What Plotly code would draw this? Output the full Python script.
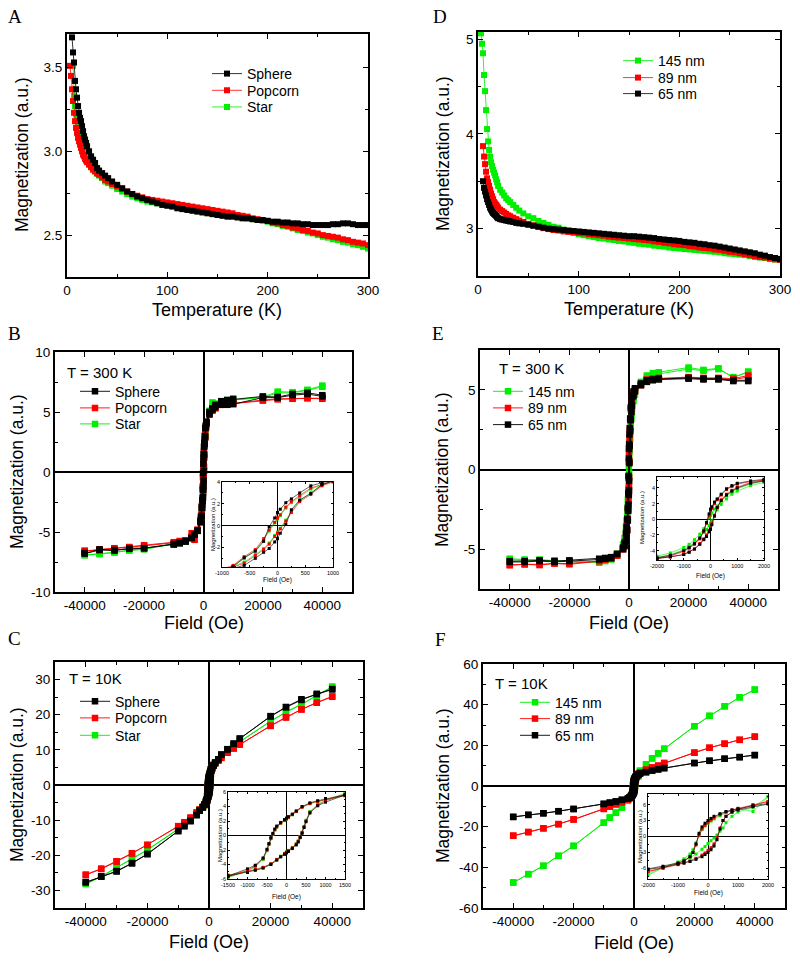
import plotly.graph_objects as go

W, H = 800, 962
SANS = "Liberation Sans, Arial, sans-serif"
SERIF = "Liberation Serif, Times New Roman, serif"
BLACK, RED, GREEN = "#000000", "#ff0000", "#00ee00"

# ---------------- Panel A / D : M vs T ----------------
T_GRID = [3, 4, 5, 6, 7, 8, 9, 10, 11, 12, 13, 14, 15, 16, 17, 18, 19, 20,
          22, 24, 26, 28, 30, 32, 35, 38, 41, 45,
          50, 55, 60, 65, 70, 75, 80, 85, 90, 95,
          100, 105, 110, 115, 120, 125, 130, 135, 140, 145,
          150, 155, 160, 165, 170, 175, 180, 185, 190, 195,
          200, 205, 210, 215, 220, 225, 230, 235, 240, 245,
          250, 255, 260, 265, 270, 275, 280, 285, 290, 295, 300]

A_SPHERE = [None, None, 3.68, 3.59, 3.53, 3.42, 3.37, 3.32, 3.27, 3.23, 3.20, 3.18, 3.15, 3.12, 3.09, 3.07, 3.05, 3.03,
            3.00, 2.97, 2.95, 2.93, 2.90, 2.885, 2.87, 2.855, 2.84, 2.82,
            2.80, 2.78, 2.76, 2.745, 2.73, 2.72, 2.71, 2.70, 2.69, 2.68,
            2.675, 2.67, 2.66, 2.655, 2.65, 2.645, 2.64, 2.635, 2.63, 2.625,
            2.62, 2.615, 2.61, 2.61, 2.605, 2.60, 2.60, 2.595, 2.59, 2.59,
            2.585, 2.58, 2.58, 2.575, 2.575, 2.57, 2.57, 2.565, 2.565, 2.56,
            2.56, 2.56, 2.56, 2.565, 2.565, 2.57, 2.57, 2.565, 2.56, 2.56, 2.56]
A_POPCORN = [3.51, 3.45, 3.37, 3.30, 3.23, 3.18, 3.14, 3.11, 3.08, 3.06, 3.04, 3.02, 3.00, 2.98, 2.97, 2.955, 2.945, 2.935,
             2.92, 2.905, 2.89, 2.88, 2.87, 2.86, 2.845, 2.83, 2.82, 2.805,
             2.79, 2.775, 2.76, 2.745, 2.735, 2.725, 2.715, 2.71, 2.705, 2.70,
             2.695, 2.69, 2.685, 2.68, 2.675, 2.67, 2.665, 2.66, 2.655, 2.65,
             2.645, 2.64, 2.635, 2.63, 2.62, 2.615, 2.61, 2.60, 2.595, 2.59,
             2.585, 2.575, 2.57, 2.56, 2.555, 2.545, 2.54, 2.53, 2.525, 2.515,
             2.51, 2.50, 2.495, 2.49, 2.485, 2.475, 2.47, 2.46, 2.455, 2.45, 2.44]
A_STAR = [None, None, None, 3.51, 3.33, 3.27, 3.22, 3.19, 3.15, 3.11, 3.08, 3.05, 3.03, 3.01, 2.99, 2.975, 2.96, 2.95,
          2.93, 2.91, 2.895, 2.88, 2.865, 2.855, 2.84, 2.82, 2.81, 2.795,
          2.775, 2.76, 2.745, 2.73, 2.72, 2.71, 2.70, 2.695, 2.69, 2.685,
          2.68, 2.675, 2.67, 2.665, 2.66, 2.655, 2.65, 2.645, 2.64, 2.635,
          2.63, 2.625, 2.62, 2.615, 2.61, 2.605, 2.60, 2.595, 2.59, 2.585,
          2.58, 2.57, 2.565, 2.555, 2.55, 2.54, 2.53, 2.525, 2.515, 2.51,
          2.50, 2.49, 2.485, 2.475, 2.47, 2.46, 2.455, 2.445, 2.44, 2.43, 2.42]

D_145 = [5.06, 4.95, 4.85, 4.62, 4.45, 4.25, 4.05, 3.92, 3.83, 3.76, 3.70, 3.66, 3.62, 3.59, 3.56, 3.52, 3.49, 3.45,
         3.41, 3.38, 3.35, 3.32, 3.30, 3.28, 3.25, 3.22, 3.19, 3.16,
         3.13, 3.11, 3.08, 3.06, 3.04, 3.02, 3.01, 2.99, 2.97, 2.955,
         2.94, 2.93, 2.92, 2.91, 2.90, 2.895, 2.885, 2.88, 2.87, 2.865,
         2.855, 2.85, 2.84, 2.835, 2.83, 2.82, 2.815, 2.81, 2.80, 2.795,
         2.79, 2.785, 2.78, 2.775, 2.77, 2.765, 2.76, 2.755, 2.75, 2.74,
         2.735, 2.73, 2.725, 2.72, 2.71, 2.70, 2.695, 2.69, 2.68, 2.675, 2.67]
D_89 = [None, None, 3.87, 3.76, 3.68, 3.60, 3.53, 3.49, 3.45, 3.41, 3.37, 3.34, 3.31, 3.28, 3.265, 3.25, 3.235, 3.22,
        3.20, 3.185, 3.17, 3.155, 3.14, 3.13, 3.115, 3.10, 3.085, 3.07,
        3.05, 3.035, 3.02, 3.005, 2.995, 2.985, 2.98, 2.97, 2.965, 2.96,
        2.955, 2.95, 2.94, 2.935, 2.93, 2.925, 2.915, 2.91, 2.905, 2.90,
        2.895, 2.89, 2.885, 2.88, 2.875, 2.865, 2.86, 2.85, 2.845, 2.835,
        2.83, 2.825, 2.815, 2.81, 2.80, 2.795, 2.79, 2.78, 2.775, 2.765,
        2.755, 2.75, 2.74, 2.73, 2.72, 2.71, 2.70, 2.695, 2.685, 2.675, 2.67]
D_65 = [None, None, 3.50, 3.43, 3.39, 3.35, 3.31, 3.28, 3.25, 3.22, 3.20, 3.18, 3.165, 3.155, 3.145, 3.135, 3.12, 3.11,
        3.10, 3.095, 3.09, 3.085, 3.08, 3.075, 3.07, 3.06, 3.055, 3.05,
        3.04, 3.03, 3.02, 3.01, 3.00, 2.995, 2.99, 2.985, 2.98, 2.975,
        2.97, 2.965, 2.96, 2.955, 2.95, 2.945, 2.94, 2.935, 2.93, 2.925,
        2.92, 2.92, 2.915, 2.91, 2.905, 2.90, 2.89, 2.885, 2.88, 2.875,
        2.87, 2.86, 2.855, 2.85, 2.84, 2.835, 2.825, 2.82, 2.81, 2.80,
        2.79, 2.78, 2.77, 2.76, 2.75, 2.74, 2.725, 2.715, 2.70, 2.69, 2.68]

# ---------------- Panel B : loops at 300 K (shapes) ----------------
H_B_DOWN = [40000, 35000, 30000, 25000, 20000, 10000, 8000, 6000, 4000, 3000, 2000,
            1000, 800, 600, 400, 250, 150, 50, 0, -50, -150, -250, -400, -600, -800, -1000,
            -2000, -3000, -4000, -6000, -8000, -10000, -20000, -25000, -30000, -35000, -40000]
H_B_UP = [-40000, -35000, -30000, -25000, -20000, -10000, -8000, -6000, -4000, -3000, -2000,
          -1000, -800, -600, -400, -250, -150, -50, 0, 50, 150, 250, 400, 600, 800, 1000,
          2000, 3000, 4000, 6000, 8000, 10000, 20000, 25000, 30000, 35000, 40000]
B_SPHERE_DOWN = [6.4, 6.6, 6.5, 6.25, 6.3, 6.1, 6.0, 5.9, 5.6, 5.3, 5.0,
                 4.2, 3.9, 3.65, 3.0, 2.45, 2.1, 1.5, 1.2, 0.7, -0.1, -1.45, -2.35, -2.95, -3.75, -4.1,
                 -4.9, -5.2, -5.5, -5.75, -5.9, -6.0, -6.35, -6.4, -6.5, -6.45, -6.75]
B_SPHERE_UP = [-6.8, -6.5, -6.55, -6.35, -6.35, -6.05, -5.95, -5.8, -5.5, -5.2, -4.9,
               -4.2, -3.9, -3.65, -3.0, -2.45, -2.1, -1.5, -1.2, -0.7, 0.1, 1.45, 2.35, 2.95, 3.75, 4.1,
               4.8, 5.2, 5.4, 5.6, 5.6, 5.65, 6.2, 6.2, 6.4, 6.5, 6.3]
B_POPCORN_DOWN = [6.15, 6.15, 6.15, 6.1, 6.0, 5.75, 5.7, 5.6, 5.4, 5.2, 4.9,
                  4.1, 3.8, 3.45, 2.75, 2.2, 1.7, 1.0, 0.7, 0.3, -0.4, -1.2, -2.2, -2.85, -3.65, -4.0,
                  -4.8, -5.65, -5.1, -5.7, -5.75, -5.85, -6.1, -6.25, -6.35, -6.45, -6.55]
B_POPCORN_UP = [-6.6, -6.5, -6.4, -6.3, -6.15, -5.9, -5.8, -5.7, -5.4, -5.2, -4.9,
                -4.1, -3.8, -3.45, -2.75, -2.2, -1.7, -1.0, -0.7, -0.3, 0.4, 1.2, 2.2, 2.85, 3.65, 4.0,
                4.8, 5.1, 5.3, 5.6, 5.65, 5.7, 5.95, 6.05, 6.1, 6.15, 6.1]
B_STAR_DOWN = [7.2, 6.85, 6.65, 6.7, 6.25, 6.0, 5.95, 5.9, 5.7, 5.8, 5.1,
               4.1, 3.75, 3.35, 2.65, 2.1, 1.6, 0.9, 0.6, 0.25, -0.5, -1.3, -2.3, -3.0, -3.75, -4.1,
               -4.9, -5.65, -5.5, -5.8, -5.9, -6.0, -6.45, -6.55, -6.7, -6.85, -6.9]
B_STAR_UP = [-6.95, -6.8, -6.7, -6.5, -6.4, -6.0, -5.9, -5.8, -5.5, -5.2, -4.9,
             -4.1, -3.75, -3.35, -2.65, -2.1, -1.6, -0.9, -0.6, -0.25, 0.5, 1.3, 2.3, 3.0, 3.75, 4.1,
             5.0, 5.5, 5.6, 5.9, 6.0, 6.0, 6.2, 6.6, 6.6, 6.8, 7.1]

# ---------------- Panel E : loops at 300 K (sizes) ----------------
H_E_DOWN = [40000, 35000, 30000, 25000, 20000, 10000, 8000, 6000, 4000, 2000, 1500,
            1000, 800, 600, 400, 250, 150, 50, 0, -50, -150, -250, -400, -600, -800, -1000,
            -1500, -2000, -4000, -6000, -8000, -10000, -20000, -25000, -30000, -35000, -40000]
H_E_UP = [-40000, -35000, -30000, -25000, -20000, -10000, -8000, -6000, -4000, -2000, -1500,
          -1000, -800, -600, -400, -250, -150, -50, 0, 50, 150, 250, 400, 600, 800, 1000,
          1500, 2000, 4000, 6000, 8000, 10000, 20000, 25000, 30000, 35000, 40000]
E_145_DOWN = [6.15, 5.75, 6.35, 6.25, 6.4, 6.1, 6.05, 5.9, 5.5, 4.9, 4.5,
              3.9, 3.5, 3.0, 2.3, 1.7, 1.3, 0.8, 0.5, 0.2, -0.5, -1.2, -1.9, -2.6, -3.2, -3.6,
              -4.3, -4.7, -5.4, -5.65, -5.75, -5.85, -5.75, -5.75, -5.65, -5.65, -5.6]
E_145_UP = [-5.65, -5.7, -5.7, -5.7, -5.8, -5.8, -5.7, -5.6, -5.3, -4.9, -4.5,
            -3.9, -3.5, -3.0, -2.3, -1.7, -1.3, -0.8, -0.5, -0.2, 0.5, 1.2, 1.9, 2.6, 3.2, 3.6,
            4.3, 4.7, 5.3, 5.8, 5.9, 6.0, 6.3, 6.2, 6.3, 5.8, 6.1]
E_89_DOWN = [5.9, 5.7, 5.75, 5.75, 5.8, 5.75, 5.7, 5.65, 5.3, 5.0, 4.8,
             4.5, 4.2, 3.8, 3.1, 2.5, 2.0, 1.4, 1.1, 0.5, -0.5, -1.5, -2.5, -3.2, -3.7, -4.1,
             -4.7, -5.0, -5.4, -5.6, -5.65, -5.75, -5.95, -5.9, -6.0, -5.95, -6.0]
E_89_UP = [-6.0, -5.95, -5.95, -5.9, -5.9, -5.75, -5.65, -5.6, -5.4, -5.0, -4.8,
           -4.5, -4.2, -3.8, -3.1, -2.5, -2.0, -1.4, -1.1, -0.5, 0.5, 1.5, 2.5, 3.2, 3.7, 4.1,
           4.7, 5.0, 5.3, 5.6, 5.65, 5.7, 5.75, 5.7, 5.7, 5.65, 5.8]
E_65_DOWN = [5.6, 5.6, 5.7, 5.7, 5.75, 5.7, 5.65, 5.6, 5.4, 5.1, 4.9,
             4.6, 4.3, 3.9, 3.2, 2.6, 2.2, 1.6, 1.3, 0.7, -0.4, -1.5, -2.4, -3.1, -3.6, -4.0,
             -4.6, -4.9, -5.3, -5.55, -5.6, -5.65, -5.75, -5.8, -5.75, -5.8, -5.8]
E_65_UP = [-5.75, -5.75, -5.7, -5.75, -5.7, -5.6, -5.55, -5.5, -5.3, -5.0, -4.8,
           -4.5, -4.2, -3.8, -3.2, -2.6, -2.2, -1.6, -1.3, -0.7, 0.4, 1.5, 2.4, 3.1, 3.6, 4.0,
           4.6, 4.9, 5.3, 5.5, 5.6, 5.65, 5.7, 5.65, 5.65, 5.55, 5.55]

# ---------------- Panel C : loops at 10 K (shapes) ----------------
H_C_DOWN = [40000, 35000, 30000, 25000, 20000, 10000, 8000, 6000, 4000, 3000, 2000, 1500,
            1000, 800, 600, 400, 250, 150, 50, 0,
            -50, -150, -250, -300, -350, -400, -450, -500, -600, -800, -1000, -1500,
            -2000, -3000, -4000, -6000, -8000, -10000, -20000, -25000, -30000, -35000, -40000]
H_C_UP = [-40000, -35000, -30000, -25000, -20000, -10000, -8000, -6000, -4000, -3000, -2000, -1500,
          -1000, -800, -600, -400, -250, -150, -50, 0,
          50, 150, 250, 300, 350, 400, 450, 500, 600, 800, 1000, 1500,
          2000, 3000, 4000, 6000, 8000, 10000, 20000, 25000, 30000, 35000, 40000]
C_SPHERE_DOWN = [27.2, 25.9, 24.4, 22.2, 19.6, 13.2, 11.7, 10.1, 8.7, 7.3, 6.3, 5.6,
                 5.1, 4.8, 4.5, 4.0, 3.4, 2.95, 2.6, 2.4,
                 2.2, 1.8, 1.3, 0.9, 0.3, -0.3, -1.1, -1.9, -3.1, -4.1, -4.6, -5.6,
                 -6.4, -7.2, -8.5, -10.3, -11.7, -13.1, -19.7, -22.3, -24.6, -26.1, -27.7]
C_SPHERE_UP = [-27.6, -26.0, -24.5, -22.2, -19.6, -13.1, -11.7, -10.2, -8.6, -7.3, -6.3, -5.6,
               -5.1, -4.8, -4.5, -4.0, -3.4, -2.95, -2.6, -2.4,
               -2.2, -1.8, -1.3, -0.9, -0.3, 0.3, 1.1, 1.9, 3.1, 4.1, 4.6, 5.6,
               6.4, 7.3, 8.6, 10.2, 11.8, 13.2, 19.5, 22.1, 24.2, 25.9, 27.3]
C_POPCORN_DOWN = [25.2, 23.5, 21.5, 19.2, 16.8, 11.5, 10.4, 9.2, 7.7, 6.9, 6.1, 5.5,
                  5.0, 4.7, 4.4, 3.9, 3.3, 2.9, 2.5, 2.3,
                  2.1, 1.7, 1.2, 0.8, 0.2, -0.4, -1.2, -2.0, -3.2, -4.2, -4.8, -5.7,
                  -6.3, -7.0, -7.9, -9.3, -10.7, -11.8, -17.1, -19.5, -21.8, -23.9, -25.6]
C_POPCORN_UP = [-25.5, -23.8, -21.7, -19.4, -17.0, -11.7, -10.6, -9.3, -7.8, -7.0, -6.2, -5.5,
                -5.0, -4.7, -4.4, -3.9, -3.3, -2.9, -2.5, -2.3,
                -2.1, -1.7, -1.2, -0.8, -0.2, 0.4, 1.2, 2.0, 3.2, 4.2, 4.8, 5.7,
                6.3, 7.0, 7.8, 9.2, 10.4, 11.5, 16.9, 19.3, 21.5, 23.4, 25.1]
C_STAR_DOWN = [28.0, 25.5, 23.0, 20.8, 18.2, 12.3, 11.0, 9.7, 8.2, 7.1, 6.2, 5.5,
               5.0, 4.7, 4.4, 3.9, 3.3, 2.85, 2.45, 2.25,
               2.05, 1.65, 1.15, 0.75, 0.15, -0.45, -1.25, -2.1, -3.3, -4.3, -4.9, -5.8,
               -6.4, -7.1, -8.1, -9.7, -11.2, -12.6, -18.5, -21.1, -23.5, -26.1, -28.2]
C_STAR_UP = [-28.1, -26.0, -23.4, -21.0, -18.4, -12.5, -11.1, -9.7, -8.1, -7.1, -6.2, -5.5,
             -5.0, -4.7, -4.4, -3.9, -3.3, -2.85, -2.45, -2.25,
             -2.05, -1.65, -1.15, -0.75, -0.15, 0.45, 1.25, 2.1, 3.3, 4.3, 4.9, 5.8,
             6.4, 7.1, 8.2, 9.7, 11.0, 12.3, 18.1, 20.7, 22.9, 25.4, 27.9]

# ---------------- Panel F : loops at 10 K (sizes) ----------------
H_F_DOWN = [40000, 35000, 30000, 25000, 20000, 10000, 8000, 6000, 4000, 2000, 1500,
            1000, 800, 600, 400, 200, 100, 0, -100, -200, -300, -400, -500, -600, -800, -1000,
            -1500, -2000, -4000, -6000, -8000, -10000, -20000, -25000, -30000, -35000, -40000]
H_F_UP = [-40000, -35000, -30000, -25000, -20000, -10000, -8000, -6000, -4000, -2000, -1500,
          -1000, -800, -600, -400, -200, -100, 0, 100, 200, 300, 400, 500, 600, 800, 1000,
          1500, 2000, 4000, 6000, 8000, 10000, 20000, 25000, 30000, 35000, 40000]
F_145_DOWN = [47.4, 43.6, 39.2, 34.5, 29.4, 18.3, 16.0, 13.6, 10.6, 7.5, 4.7,
              5.3, 4.9, 4.5, 3.9, 3.3, 2.9, 2.5, 2.0, 1.3, 0.2, -1.2, -2.5, -3.3, -4.2, -4.8,
              -5.8, -7.0, -10.6, -13.1, -15.5, -18.0, -29.4, -34.3, -39.2, -43.3, -47.4]
F_145_UP = [-47.5, -43.4, -39.3, -34.4, -29.5, -18.1, -15.6, -13.2, -10.6, -7.3, -5.9,
            -5.0, -4.5, -4.0, -3.3, -2.4, -1.9, -1.3, -0.8, -0.3, 0.3, 1.0, 1.6, 2.6, 3.8, 4.6,
            5.5, 7.5, 10.6, 13.6, 16.0, 18.3, 29.4, 34.5, 39.2, 43.6, 47.4]
F_89_DOWN = [24.2, 22.7, 20.8, 18.8, 16.4, 11.3, 10.0, 9.1, 8.0, 6.6, 6.0,
             5.3, 5.0, 4.6, 4.1, 3.5, 3.1, 2.6, 2.1, 1.4, 0.2, -1.6, -3.0, -3.8, -4.6, -5.1,
             -5.9, -6.6, -8.0, -9.0, -10.1, -11.3, -16.5, -18.8, -20.8, -22.7, -24.5]
F_89_UP = [-24.4, -22.6, -20.8, -18.7, -16.4, -11.2, -10.1, -9.0, -8.0, -6.6, -6.0,
           -5.3, -5.0, -4.6, -4.1, -3.5, -3.1, -2.6, -2.1, -1.4, -0.2, 1.6, 3.0, 3.8, 4.6, 5.1,
           5.9, 6.6, 8.0, 9.1, 10.0, 11.3, 16.4, 18.8, 20.8, 22.7, 24.3]
F_65_DOWN = [15.2, 14.2, 13.4, 12.4, 11.3, 8.8, 8.2, 7.6, 6.8, 6.2, 5.8,
             5.2, 5.0, 4.7, 4.3, 3.8, 3.4, 3.0, 2.5, 1.8, 0.6, -1.4, -3.0, -3.8, -4.6, -5.0,
             -5.6, -6.1, -6.8, -7.6, -8.2, -8.8, -11.3, -12.4, -13.4, -14.2, -15.2]
F_65_UP = [-15.2, -14.2, -13.4, -12.4, -11.3, -8.8, -8.2, -7.6, -6.8, -6.2, -5.8,
           -5.2, -5.0, -4.7, -4.3, -3.8, -3.4, -3.0, -2.5, -1.8, -0.6, 1.4, 3.0, 3.8, 4.6, 5.0,
           5.6, 6.1, 6.8, 7.6, 8.2, 8.8, 11.3, 12.4, 13.4, 14.2, 15.2]

# ---------------- tick labels ----------------
T_TICKS = [0, 100, 200, 300]
T_LABELS = ["0", "100", "200", "300"]
A_YTICKS = [2.5, 3.0, 3.5]
A_YLABELS = ["2.5", "3.0", "3.5"]
D_YTICKS = [3, 4, 5]
D_YLABELS = ["3", "4", "5"]
FIELD_TICKS = [-40000, -20000, 0, 20000, 40000]
FIELD_LABELS = ["-40000", "-20000", "0", "20000", "40000"]
B_YTICKS = [-10, -5, 0, 5, 10]
B_YLABELS = ["-10", "-5", "0", "5", "10"]
E_YTICKS = [-5, 0, 5]
E_YLABELS = ["-5", "0", "5"]
C_YTICKS = [-30, -20, -10, 0, 10, 20, 30]
C_YLABELS = ["-30", "-20", "-10", "0", "10", "20", "30"]
F_YTICKS = [-60, -40, -20, 0, 20, 40, 60]
F_YLABELS = ["-60", "-40", "-20", "0", "20", "40", "60"]
IB_XTICKS = [-1000, -500, 0, 500, 1000]
IB_XLABELS = ["-1000", "-500", "0", "500", "1000"]
IB_YTICKS = [-2, 0, 2, 4]
IB_YLABELS = ["-2", "0", "2", "4"]
I2K_XTICKS = [-2000, -1000, 0, 1000, 2000]
I2K_XLABELS = ["-2000", "-1000", "0", "1000", "2000"]
IE_YTICKS = [-4, -2, 0, 2, 4]
IE_YLABELS = ["-4", "-2", "0", "2", "4"]
IC_XTICKS = [-1500, -1000, -500, 0, 500, 1000, 1500]
IC_XLABELS = ["-1500", "-1000", "-500", "0", "500", "1000", "1500"]
IC_YTICKS = [-6, -4, -2, 0, 2, 4, 6]
IC_YLABELS = ["-6", "-4", "-2", "0", "2", "4", "6"]
IF_YTICKS = [-6, -3, 0, 3, 6]
IF_YLABELS = ["-6", "-3", "0", "3", "6"]

for arr in (A_SPHERE, A_POPCORN, A_STAR, D_145, D_89, D_65):
    assert len(arr) == len(T_GRID), len(arr)
for hd, hu, arrs in ((H_B_DOWN, H_B_UP, (B_SPHERE_DOWN, B_SPHERE_UP, B_POPCORN_DOWN, B_POPCORN_UP, B_STAR_DOWN, B_STAR_UP)),
                     (H_E_DOWN, H_E_UP, (E_145_DOWN, E_145_UP, E_89_DOWN, E_89_UP, E_65_DOWN, E_65_UP)),
                     (H_C_DOWN, H_C_UP, (C_SPHERE_DOWN, C_SPHERE_UP, C_POPCORN_DOWN, C_POPCORN_UP, C_STAR_DOWN, C_STAR_UP)),
                     (H_F_DOWN, H_F_UP, (F_145_DOWN, F_145_UP, F_89_DOWN, F_89_UP, F_65_DOWN, F_65_UP))):
    assert len(hd) == len(hu)
    for a in arrs:
        assert len(a) == len(hd), (len(a), len(hd))


def px(x):
    return x / W


def py(y):
    return 1 - y / H


fig = go.Figure()


def add_series(x, y, name, color, idx, legend, msize, lw, showlegend=True):
    sfx = "" if idx == 1 else str(idx)
    fig.add_trace(go.Scatter(
        x=x, y=y, name=name, mode="lines+markers",
        line=dict(color=color, width=lw),
        marker=dict(symbol="square", size=msize, color=color, line=dict(width=0)),
        xaxis="x" + sfx, yaxis="y" + sfx, legend=legend, showlegend=showlegend,
        connectgaps=False, hoverinfo="skip"))


# one legend box per entry so each row can sit where the reference puts it
legend_layout = {}
leg_counter = [0]


def legend_for(xline, ycenter):
    leg_counter[0] += 1
    key = "legend" if leg_counter[0] == 1 else "legend%d" % leg_counter[0]
    legend_layout[key] = dict(x=px(xline - 5), y=py(ycenter), xanchor="left", yanchor="middle",
                              font=dict(size=14, family=SANS, color="black"),
                              bgcolor="rgba(0,0,0,0)", borderwidth=0, itemwidth=30)
    return key


# Panel A (draw Star, Popcorn, Sphere so black sits on top)
legA = [legend_for(212, 74), legend_for(212, 90.7), legend_for(212, 107.3)]
add_series(T_GRID, A_STAR, "Star", GREEN, 1, legA[2], 6, 0.8)
add_series(T_GRID, A_POPCORN, "Popcorn", RED, 1, legA[1], 6, 0.8)
add_series(T_GRID, A_SPHERE, "Sphere", BLACK, 1, legA[0], 6, 0.8)
# Panel D
legD = [legend_for(623, 61), legend_for(623, 78), legend_for(623, 94)]
add_series(T_GRID, D_145, "145 nm", GREEN, 2, legD[0], 6, 0.8)
add_series(T_GRID, D_89, "89 nm", RED, 2, legD[1], 6, 0.8)
add_series(T_GRID, D_65, "65 nm", BLACK, 2, legD[2], 6, 0.8)

loops = [
    (3, 7, (80, [391.7, 408.3, 424.3]), H_B_DOWN, H_B_UP,
     [("Star", GREEN, B_STAR_DOWN, B_STAR_UP, 2),
      ("Popcorn", RED, B_POPCORN_DOWN, B_POPCORN_UP, 1),
      ("Sphere", BLACK, B_SPHERE_DOWN, B_SPHERE_UP, 0)]),
    (4, 8, (493, [391.7, 408.3, 425.0]), H_E_DOWN, H_E_UP,
     [("145 nm", GREEN, E_145_DOWN, E_145_UP, 0),
      ("89 nm", RED, E_89_DOWN, E_89_UP, 1),
      ("65 nm", BLACK, E_65_DOWN, E_65_UP, 2)]),
    (5, 9, (80, [701.7, 718.3, 735.7]), H_C_DOWN, H_C_UP,
     [("Star", GREEN, C_STAR_DOWN, C_STAR_UP, 2),
      ("Popcorn", RED, C_POPCORN_DOWN, C_POPCORN_UP, 1),
      ("Sphere", BLACK, C_SPHERE_DOWN, C_SPHERE_UP, 0)]),
    (6, 10, (520, [702.7, 719.0, 735.7]), H_F_DOWN, H_F_UP,
     [("145 nm", GREEN, F_145_DOWN, F_145_UP, 0),
      ("89 nm", RED, F_89_DOWN, F_89_UP, 1),
      ("65 nm", BLACK, F_65_DOWN, F_65_UP, 2)]),
]
for main_idx, inset_idx, (xline, rows), hd, hu, series in loops:
    keys = [legend_for(xline, r) for r in rows]
    for name, color, md, mu, row in series:
        add_series(hd + hu, md + mu, name, color, main_idx, keys[row], 6.5, 0.9)
    for name, color, md, mu, row in series:
        add_series(hd + hu, md + mu, name, color, inset_idx, keys[row], 3, 0.6, showlegend=False)


def axis(domain, rng, tickvals, ticktext, minor_dtick, anchor, zeroline, inset=False):
    fs = 5.5 if inset else 13.5
    return dict(
        domain=domain, range=rng, anchor=anchor, autorange=False,
        tickmode="array", tickvals=tickvals, ticktext=ticktext,
        ticks="inside", ticklen=2 if inset else 5, tickwidth=0.8 if inset else 1.4, tickcolor="black",
        showline=True, linecolor="black", linewidth=0.9 if inset else 1.8, mirror="ticks",
        showgrid=False, zeroline=zeroline, zerolinecolor="black", zerolinewidth=0.8 if inset else 2,
        minor=dict(ticks="inside", ticklen=1.2 if inset else 3, tickwidth=0.7 if inset else 1.1,
                   tickcolor="black", dtick=minor_dtick, tick0=0, showgrid=False),
        tickfont=dict(size=fs, color="black", family=SANS), ticklabelstandoff=0,
        automargin=False, fixedrange=True)


panels = [
    # idx, x px, y px (top,bottom), xrange, yrange, xt, xl, yt, yl, xminor, yminor, zero, inset
    (1, (67, 368), (34, 277), [0, 300], [2.25, 3.70], T_TICKS, T_LABELS, A_YTICKS, A_YLABELS, 50, 0.25, False, False),
    (2, (478, 780), (32, 276), [0, 300], [2.5, 5.074], T_TICKS, T_LABELS, D_YTICKS, D_YLABELS, 50, 0.5, False, False),
    (3, (55, 352), (352, 592), [-50000, 50000], [-10, 10], FIELD_TICKS, FIELD_LABELS, B_YTICKS, B_YLABELS, 10000, 2.5, True, False),
    (4, (480, 778), (350, 589), [-50000, 50000], [-7.5, 7.5], FIELD_TICKS, FIELD_LABELS, E_YTICKS, E_YLABELS, 10000, 2.5, True, False),
    (5, (55, 363), (662, 908), [-50000, 50000], [-35, 35], FIELD_TICKS, FIELD_LABELS, C_YTICKS, C_YLABELS, 10000, 5, True, False),
    (6, (483, 785), (664, 908), [-50000, 50000], [-60, 60], FIELD_TICKS, FIELD_LABELS, F_YTICKS, F_YLABELS, 10000, 10, True, False),
    (7, (222, 333), (482, 567), [-1000, 1000], [-3.8, 4], IB_XTICKS, IB_XLABELS, IB_YTICKS, IB_YLABELS, 250, 1, True, True),
    (8, (657, 764), (477, 560), [-2000, 2000], [-5.2, 5.4], I2K_XTICKS, I2K_XLABELS, IE_YTICKS, IE_YLABELS, 500, 1, True, True),
    (9, (228, 345), (792, 879), [-1500, 1500], [-6, 6], IC_XTICKS, IC_XLABELS, IC_YTICKS, IC_YLABELS, 250, 1, True, True),
    (10, (648, 768), (794, 879), [-2000, 2000], [-8, 8], I2K_XTICKS, I2K_XLABELS, IF_YTICKS, IF_YLABELS, 500, 1.5, True, True),
]
layout_axes = {}
for idx, (x0, x1), (y0, y1), xr, yr, xt, xl, yt, yl, xm, ym, zero, inset in panels:
    sfx = "" if idx == 1 else str(idx)
    layout_axes["xaxis" + sfx] = axis([px(x0), px(x1)], xr, xt, xl, xm, "y" + sfx, zero, inset)
    layout_axes["yaxis" + sfx] = axis([py(y1), py(y0)], yr, yt, yl, ym, "x" + sfx, zero, inset)

annotations = []


def text(x, y, s, size, family=SANS, angle=0, xanchor="center"):
    annotations.append(dict(x=px(x), y=py(y), xref="paper", yref="paper", text=s, showarrow=False,
                            font=dict(size=size, family=family, color="black"), textangle=angle,
                            xanchor=xanchor, yanchor="middle"))


# panel letters
for s, x, y in (("A", 15, 17), ("D", 440, 17), ("B", 14, 333), ("E", 438, 333), ("C", 14, 638), ("F", 440, 639)):
    text(x, y, s, 19, SERIF)
# main axis titles
text(217, 310, "Temperature (K)", 18)
text(629, 309, "Temperature (K)", 18)
text(204, 623, "Field (Oe)", 18)
text(629, 623, "Field (Oe)", 18)
text(209, 942, "Field (Oe)", 18)
text(634, 943, "Field (Oe)", 18)
for x, y in ((22, 155), (443, 154), (17, 472), (442, 470), (17, 785), (443, 786)):
    text(x, y, "Magnetization (a.u.)", 17.5, angle=-90)
# temperature labels
text(65, 372, "T = 300 K", 15, xanchor="left")
text(497, 368, "T = 300 K", 15, xanchor="left")
text(67, 678, "T = 10K", 15, xanchor="left")
text(493, 683, "T = 10K", 15, xanchor="left")
# inset titles
for x, y in ((213, 525), (642, 518), (220, 836), (640, 837)):
    text(x, y, "Magnetization (a.u.)", 6, angle=-90)
for x, y in ((277, 580), (710, 576), (286, 897), (708, 893)):
    text(x, y, "Field (Oe)", 6.5)

fig.update_layout(
    width=W, height=H, autosize=False,
    margin=dict(l=0, r=0, t=0, b=0, pad=0, autoexpand=False),
    paper_bgcolor="white", plot_bgcolor="white",
    font=dict(family=SANS, color="black"),
    showlegend=True,
    annotations=annotations,
    **legend_layout,
    **layout_axes,
)

# the page's default 8px body margin would shift the whole figure; remove it
fig.write_html("out.html", config={"displayModeBar": False},
               post_script="document.body.style.margin='0px';")
